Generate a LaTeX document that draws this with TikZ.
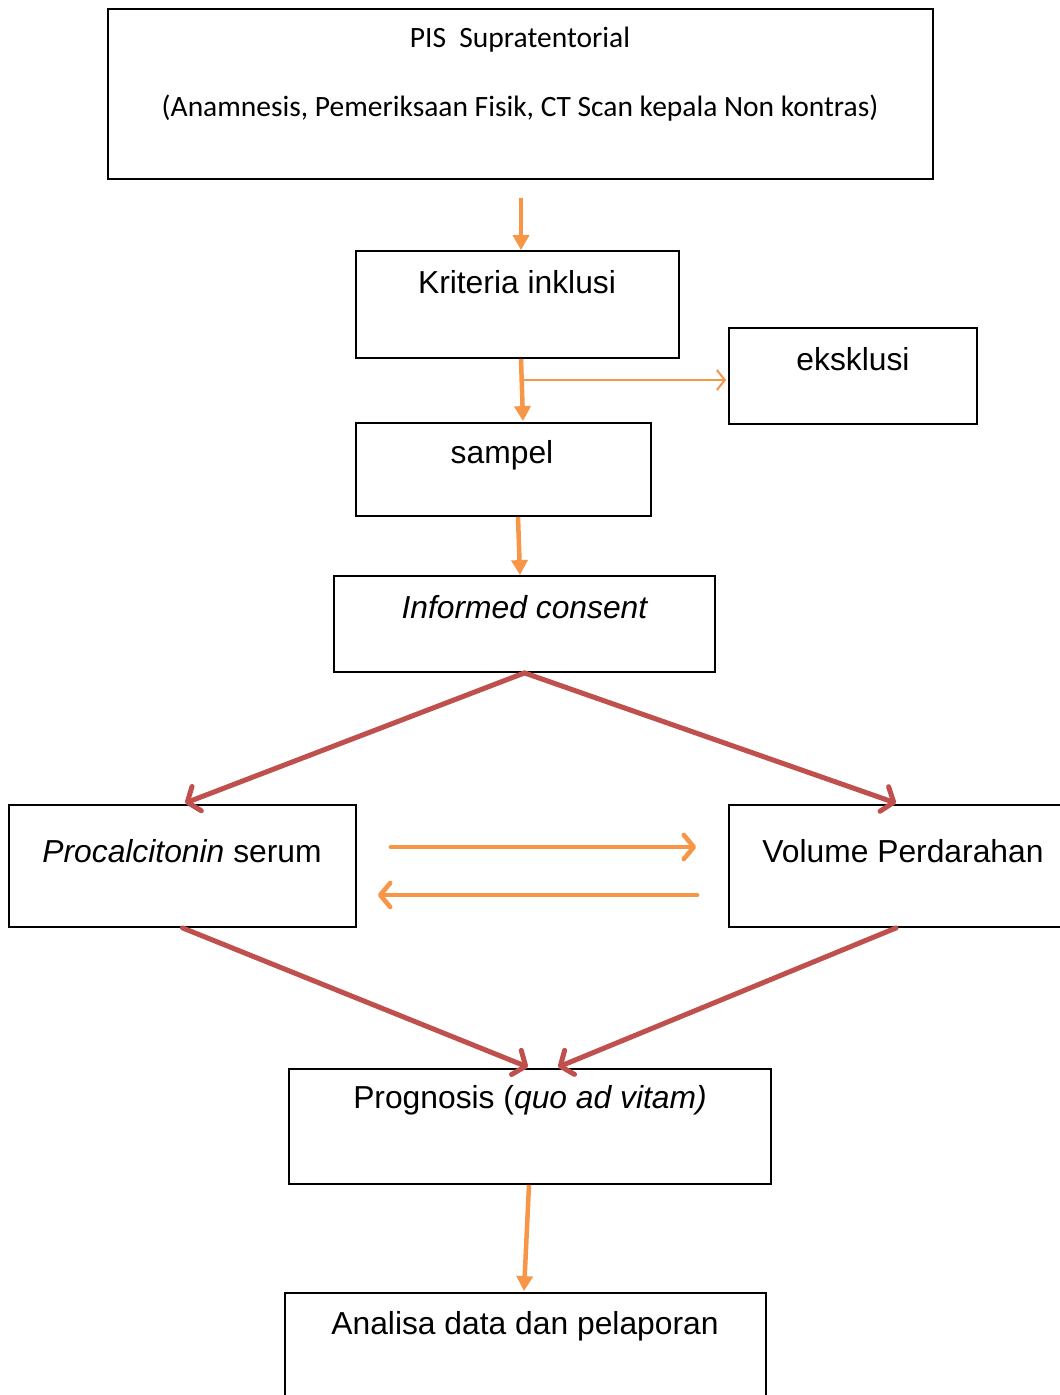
\documentclass[tikz,border=0pt]{standalone}
\usepackage{fontspec}
\setmainfont{Liberation Sans}
\newfontfamily\calib{Carlito}
\usetikzlibrary{arrows.meta,calc}
\definecolor{oarr}{HTML}{F79646}
\definecolor{rarr}{HTML}{C0504D}
\begin{document}
\begin{tikzpicture}[x=1pt,y=-1pt,
  box/.style={draw=black, line width=1.8pt, rectangle, inner sep=0pt, anchor=center},
  lbl/.style={inner sep=0pt, font=\fontsize{31.8}{38}\selectfont},
  oarrow/.style={draw=oarr, line width=4.5pt, -{Triangle[length=15pt,width=16pt]}},
  oarrowthin/.style={draw=oarr, line width=2pt, -{Straight Barb[length=8pt,width=20pt,line width=2pt]}},
  obarb/.style={draw=oarr, line width=4.6pt, line cap=round, -{Straight Barb[length=10pt,width=24pt,round]}},
  rbarb/.style={draw=rarr, line width=5pt, line cap=round, -{Straight Barb[length=10pt,width=26pt,round]}}]
\useasboundingbox (0,0) rectangle (1060,1395);
\fill[white] (0,0) rectangle (1060,1395);

% boxes
\node[box, minimum width=825pt, minimum height=170pt] (top) at (520.5,94) {};
\node[box, minimum width=323pt, minimum height=107pt] (krit) at (517.5,304.5) {};
\node[box, minimum width=248pt, minimum height=96pt] (eks) at (853,376) {};
\node[box, minimum width=295pt, minimum height=93pt] (samp) at (503.5,469.5) {};
\node[box, minimum width=381pt, minimum height=96pt] (inf) at (524.5,624) {};
\node[box, minimum width=347pt, minimum height=122pt] (proc) at (182.5,866) {};
\node[box, minimum width=371pt, minimum height=122pt] (vol) at (914.5,866) {};
\node[box, minimum width=482pt, minimum height=115pt] (prog) at (530,1126.5) {};
\node[box, minimum width=481pt, minimum height=127pt] (anal) at (525.5,1356.5) {};

% texts
\node[inner sep=0pt, font=\calib\fontsize{29.5}{35}\selectfont] (t1) at (520,40) {PIS\ \ Supratentorial};
\node[inner sep=0pt, font=\calib\fontsize{29.5}{35}\selectfont] (t2) at (520,108) {(Anamnesis, Pemeriksaan Fisik, CT Scan kepala Non kontras)};
\node[lbl] (tkrit) at (517,282) {Kriteria inklusi};
\node[lbl] (teks) at (853,359) {eksklusi};
\node[lbl] (tsamp) at (502,455) {sampel};
\node[lbl] (tinf) at (525,607) {\textit{Informed consent}};
\node[lbl] (tproc) at (182,851) {\textit{Procalcitonin} serum};
\node[lbl] (tvol) at (903,851) {Volume Perdarahan};
\node[lbl] (tprog) at (530,1100) {Prognosis (\textit{quo ad vitam)}};
\node[lbl] (tanal) at (525,1326) {Analisa data dan pelaporan};

% connectors
\draw[oarrow] ($(top.south)+(0.5,18)$) -- ($(krit.north)+(3.5,0)$);
\draw[oarrow] ($(krit.south)+(3.5,0)$) -- ($(samp.north)+(19.5,-1)$);
\coordinate (br) at (523,380);
\draw[oarrowthin] (br) -- ($(eks.west)+(-2,4)$);
\draw[oarrow] ($(samp.south)+(14.5,0)$) -- ($(inf.north)+(-4.5,0)$);

\draw[rbarb] (inf.south) -- ($(proc.north)+(2.5,-1)$);
\draw[rbarb] (inf.south) -- ($(vol.north west)+(168,-1)$);

\draw[obarb] ($(proc.east)+(34,-19)$) -- ($(vol.west)+(-32,-19)$);
\draw[obarb] ($(vol.west)+(-31,29)$) -- ($(proc.east)+(21,29)$);

\draw[rbarb] (proc.south) -- ($(prog.north)+(-2,-1)$);
\draw[rbarb] ($(vol.south west)+(168,0)$) -- ($(prog.north)+(28,-1)$);

\draw[oarrow] ($(prog.south)+(-1,0)$) -- ($(anal.north)+(-1.5,-1)$);
\end{tikzpicture}
\end{document}
